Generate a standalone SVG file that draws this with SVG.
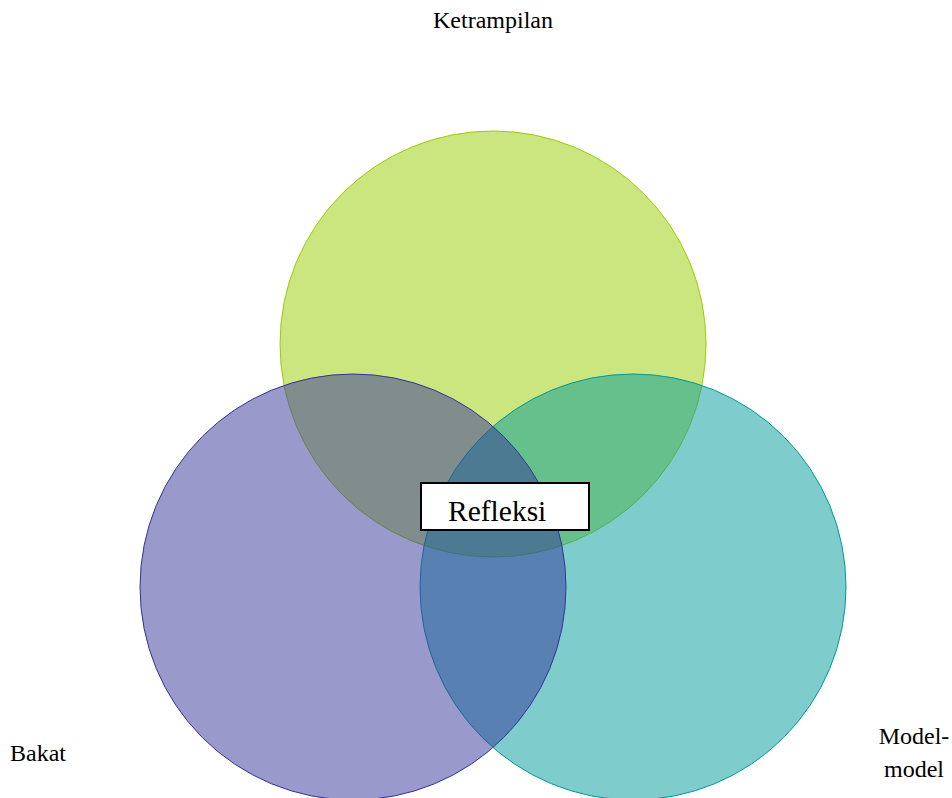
<svg xmlns="http://www.w3.org/2000/svg" width="952" height="798" viewBox="0 0 952 798">
<style>
text{font-family:"Liberation Serif","Times New Roman",serif;fill:#000}
.lbl{font-size:24px}
</style>
<rect width="952" height="798" fill="#fff"/>
<g id="ketrampilan">
<circle cx="493" cy="344" r="213" fill="#9acd00" fill-opacity="0.5" stroke="#9acd00" stroke-width="1"/>
<text class="lbl" x="493" y="28" text-anchor="middle">Ketrampilan</text>
</g>
<g id="model">
<circle cx="633" cy="587" r="213" fill="#009999" fill-opacity="0.5" stroke="#009999" stroke-width="1"/>
<text class="lbl" x="914" y="744" text-anchor="middle">Model-</text>
<text class="lbl" x="914" y="777" text-anchor="middle">model</text>
</g>
<g id="bakat">
<circle cx="353" cy="587" r="213" fill="#333399" fill-opacity="0.5" stroke="#333399" stroke-width="1"/>
<text class="lbl" x="10" y="761">Bakat</text>
</g>
<g id="refleksi">
<rect x="421" y="483" width="168" height="47" fill="#fff" stroke="#000" stroke-width="2"/>
<text x="448" y="521" font-size="29.5">Refleksi</text>
</g>
<g id="connectors"></g>
</svg>
